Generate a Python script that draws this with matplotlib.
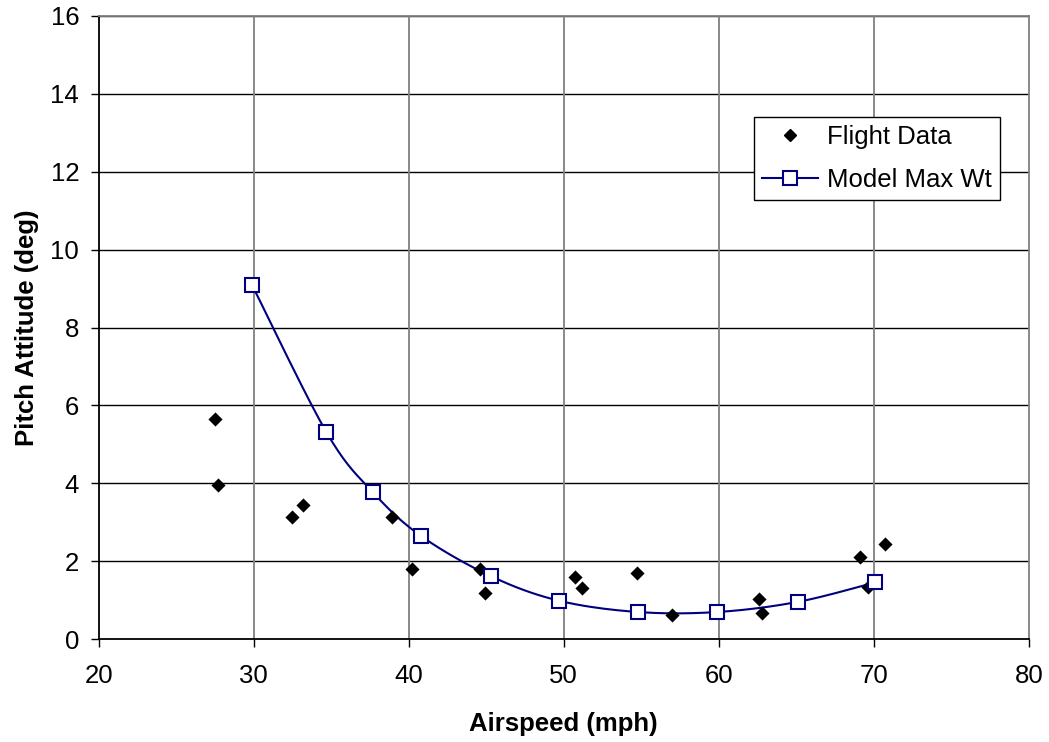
import numpy as np
import matplotlib.pyplot as plt
from matplotlib.lines import Line2D

plt.rcParams['font.family'] = ['Liberation Sans', 'DejaVu Sans']

# Flight test points
flight_speed = [27.5, 27.7, 32.5, 33.2, 38.9, 40.2, 44.6, 44.9, 50.7, 51.2,
                54.7, 57.0, 62.6, 62.8, 69.1, 69.6, 70.7]
flight_pitch = [5.65, 3.95, 3.13, 3.44, 3.13, 1.80, 1.81, 1.20, 1.60, 1.32,
                1.70, 0.62, 1.03, 0.67, 2.11, 1.33, 2.45]

# Model prediction at max weight
model_speed = [29.9, 34.7, 37.7, 40.8, 45.3, 49.7, 54.8, 59.9, 65.1, 70.1]
model_pitch = [9.09, 5.31, 3.77, 2.65, 1.62, 0.99, 0.70, 0.70, 0.96, 1.46]


def smooth_curve(xs, ys, n=20):
    # Bezier smoothing through the points (control points at +/- 1/6 of neighbour span)
    p = np.column_stack([xs, ys]).astype(float)
    ext = np.vstack([p[0], p, p[-1]])
    out = []
    t = np.linspace(0, 1, n)[:, None]
    for i in range(len(p) - 1):
        p0, p1, p2, p3 = ext[i], ext[i + 1], ext[i + 2], ext[i + 3]
        c1 = p1 + (p2 - p0) / 6
        c2 = p2 - (p3 - p1) / 6
        seg = ((1 - t) ** 3) * p1 + 3 * ((1 - t) ** 2) * t * c1 \
            + 3 * (1 - t) * t ** 2 * c2 + t ** 3 * p2
        out.append(seg if i == 0 else seg[1:])
    seg = np.vstack(out)
    return seg[:, 0], seg[:, 1]


fig = plt.figure(figsize=(10.49, 7.42), dpi=100)
ax = fig.add_axes([0.094, 0.1384, 0.8867, 0.8404])

navy = '#000080'
ax.scatter(flight_speed, flight_pitch, marker='D', s=52, color='black',
           zorder=4, linewidths=0)
sx, sy = smooth_curve(model_speed, model_pitch)
ax.plot(sx, sy, color=navy, lw=1.5, zorder=3)
ax.plot(model_speed, model_pitch, ls='none', marker='s', ms=9.5,
        mfc='white', mec=navy, mew=1.5, zorder=5)

ax.set_xlim(20, 80)
ax.set_ylim(0, 16)
ax.set_xticks(range(20, 81, 10))
ax.set_yticks(range(0, 17, 2))
ax.tick_params(direction='out', length=6, width=1, labelsize=18.5, pad=8)
ax.tick_params(axis='x', pad=12)
for y in range(2, 17, 2):
    ax.axhline(y, color='black', lw=1, zorder=1)
for x in range(30, 80, 10):
    ax.axvline(x, color='#808080', lw=1.3, zorder=1)

ax.spines['top'].set_color('#808080')
ax.spines['right'].set_color('#808080')
for side in ['top', 'right', 'left', 'bottom']:
    ax.spines[side].set_linewidth(1.3)

ax.set_xlabel('Airspeed (mph)', fontsize=18.5, fontweight='bold', labelpad=17)
ax.set_ylabel('Pitch Attitude (deg)', fontsize=18.5, fontweight='bold', labelpad=8)

handles = [
    Line2D([], [], ls='none', marker='D', ms=6, color='black'),
    Line2D([], [], color=navy, lw=1.5, marker='s', ms=9.5, mfc='white',
           mec=navy, mew=1.5),
]
leg = ax.legend(handles, ['Flight Data', 'Model Max Wt'], loc='upper left',
                bbox_to_anchor=(0.7046, 0.8376), fontsize=18.5, frameon=True,
                fancybox=False, edgecolor='black', framealpha=1,
                handlelength=2.2, handletextpad=0.35, borderpad=0.3,
                labelspacing=0.75, borderaxespad=0)
leg.get_frame().set_linewidth(1.0)
leg.set_zorder(6)

fig.savefig('out.png', dpi=100)
